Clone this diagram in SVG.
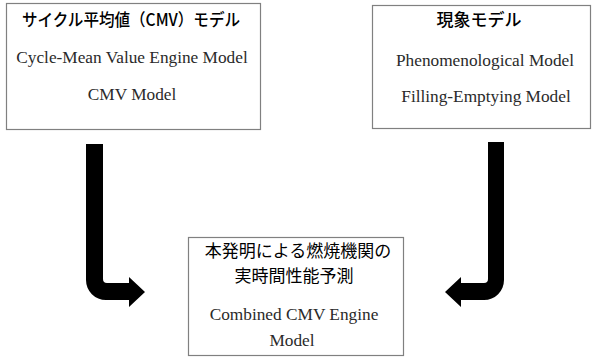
<svg xmlns="http://www.w3.org/2000/svg" width="596" height="360" viewBox="0 0 596 360">
<style>
.box{fill:#fff;stroke:#808080;stroke-width:1.2}
.jp{font-family:"Noto Sans CJK JP","Noto Sans",sans-serif;font-size:17px;fill:#000;text-anchor:middle}
.title{font-weight:500}
.en{font-family:"Liberation Serif","Times New Roman",serif;font-size:17.3px;fill:#2a2a2a;text-anchor:middle}
.arrow{fill:#000}
</style>
<rect width="596" height="360" fill="#fff"/>
<g id="cmv">
<rect class="box" x="6.5" y="3.5" width="254" height="126"/>
<text class="jp title" x="131" y="26" textLength="218" lengthAdjust="spacingAndGlyphs">サイクル平均値（CMV）モデル</text>
<text class="en" x="132" y="63">Cycle-Mean Value Engine Model</text>
<text class="en" x="132" y="100">CMV Model</text>
</g>
<g id="phenomenological">
<rect class="box" x="372.5" y="5.5" width="218" height="123"/>
<text class="jp title" x="479" y="26">現象モデル</text>
<text class="en" x="485" y="66">Phenomenological Model</text>
<text class="en" x="486" y="102">Filling-Emptying Model</text>
</g>
<g id="combined">
<rect class="box" x="188.5" y="237.5" width="215" height="118"/>
<text class="jp" x="298" y="257">本発明による燃焼機関の</text>
<text class="jp" x="294" y="282">実時間性能予測</text>
<text class="en" x="294" y="320">Combined CMV Engine</text>
<text class="en" x="292" y="346">Model</text>
</g>
<g id="connectors">
<path class="arrow" d="M86,144 H103 V279 Q103,283 107,283 H129 V277 L145,292 L129,307 V300 H106 A20,20 0 0 1 86,280 Z"/>
<path class="arrow" d="M488,142 H504 V280 A20,20 0 0 1 484,300 H461 V307 L445,292 L461,277 V283 H484 Q488,283 488,279 Z"/>
</g>
</svg>
